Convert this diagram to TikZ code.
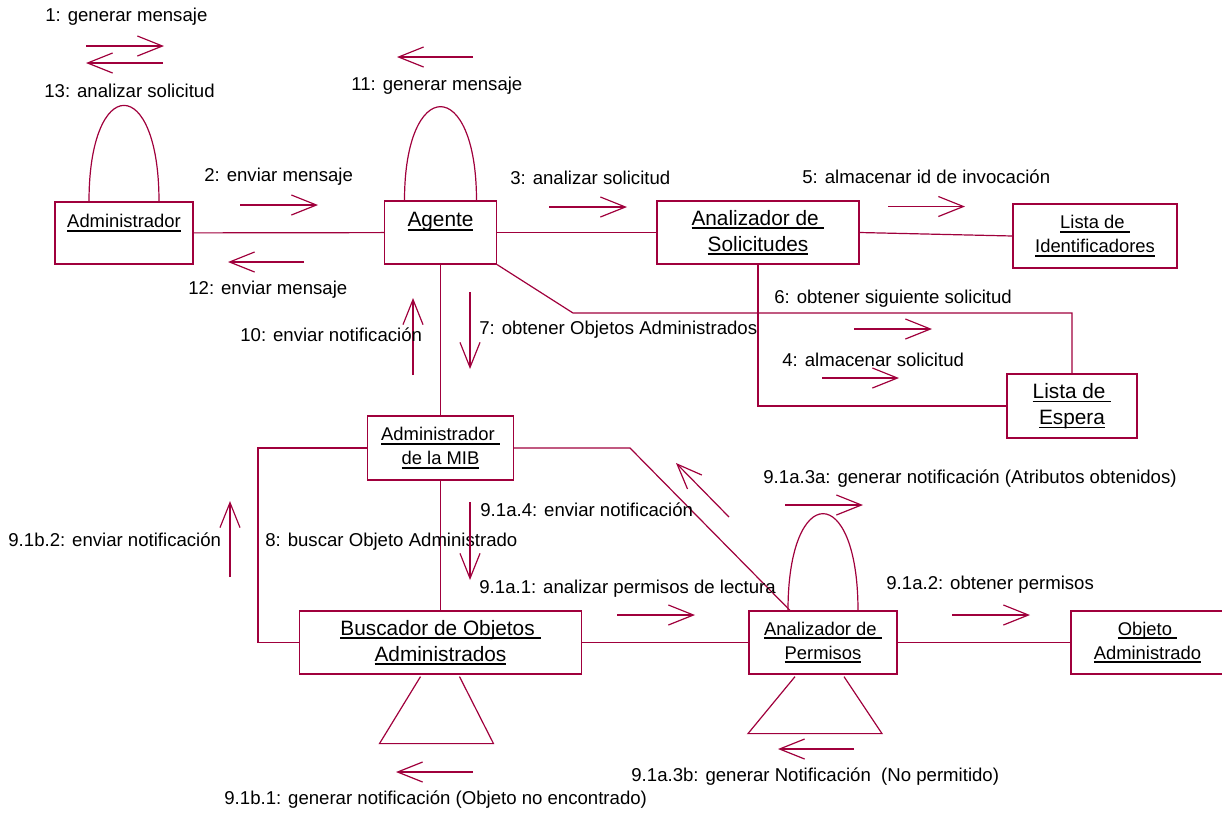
\documentclass[tikz,border=0pt]{standalone}
\usepackage{fontspec}
\setmainfont{Liberation Sans}
\usetikzlibrary{arrows.meta}
\definecolor{umlred}{RGB}{160,0,60}
\newcommand\obname[1]{\setbox0\hbox{#1}\rlap{\rule[-2pt]{\wd0}{0.9pt}}\box0}
\tikzset{
	obj/.style 2 args={draw=umlred, line width=0.6pt, minimum width=#1, minimum height=#2, inner sep=0pt, align=center, font=\fontsize{10.4}{13}\selectfont},
	smallobj/.style={font=\fontsize{9.2}{12}\selectfont},
	link/.style={umlred, line width=0.6pt},
	msg/.style={umlred, line width=0.6pt, -{Straight Barb[length=12.5pt,width=10pt]}},
	lbl/.style={anchor=west, inner sep=0pt, font=\fontsize{9.3}{11}\selectfont},
}

\begin{document}
\begin{tikzpicture}[x=0.5pt, y=-0.5pt]
			%%%%% START %%%%%
			\useasboundingbox (0,0) rectangle (1222,815);
			
			% objects
			\node[obj={69pt}{31pt}, smallobj] (admin) at (124,233) {\obname{Administrador}\\\mbox{}};
			\node[obj={56pt}{31.5pt}] (agente) at (440.5,232.5) {\obname{Agente}\\\mbox{}};
			\node[obj={101pt}{31.5pt}] (asol) at (758,232.5) {\obname{Analizador de }\\\obname{Solicitudes}};
			\node[obj={82pt}{32pt}, smallobj] (lid) at (1095,236) {\obname{Lista de }\\\obname{Identificadores}};
			\node[obj={65pt}{32pt}] (lesp) at (1072,406) {\obname{Lista de }\\\obname{Espera}};
			\node[obj={73pt}{32pt}, smallobj] (amib) at (440.5,448) {\obname{Administrador }\\\obname{de la MIB}};
			\node[obj={141pt}{31.5pt}] (busc) at (440.5,642.5) {\obname{Buscador de Objetos }\\\obname{Administrados}};
			\node[obj={74pt}{31.5pt}, smallobj] (aper) at (823,642.5) {\obname{Analizador de }\\\obname{Permisos}};
			\node[obj={76.5pt}{31.5pt}, smallobj] (oadm) at (1147.5,642.5) {\obname{Objeto }\\\obname{Administrado}};
			
			% links
			\coordinate (bendA) at (573,313);
			\coordinate (bendB) at (630,448);
			\draw[link] (admin) -- (agente);
			\draw[link] (agente) -- (asol);
			\draw[link] (asol.east) -- (lid.west);
			\draw[link] (agente.south east) -- (bendA) -| (lesp);
			\draw[link] (asol.south) |- (lesp);
			\draw[link] (agente) -- (amib);
			\draw[link] (amib) -- (busc);
			\draw[link] (amib.west) -- ++(-109,0) |- (busc.west);
			\draw[link] (amib.east) -- (bendB) -- ([xshift=-16.5pt]aper.north);
			\draw[link] (busc) -- (aper);
			\draw[link] (aper) -- (oadm);
			
			% self links
			\draw[link] ([xshift=-17.5pt]admin.north) .. controls +(0,-128) and +(0,-128) .. ([xshift=17.5pt]admin.north);
			\draw[link] ([xshift=-18pt]agente.north) .. controls +(0,-125) and +(0,-125) .. ([xshift=18pt]agente.north);
			\draw[link] ([xshift=-17.5pt]aper.north) .. controls +(0,-129) and +(0,-129) .. ([xshift=17.5pt]aper.north);
			
			\draw[link] (busc.south) ++(-20,2) -- ++(-41,67) -- ++(114,0) -- ++(-34,-67);
			\draw[link] (aper.south) ++(-28,2) -- ++(-47,57) -- ++(134,0) -- ++(-38,-57);
			
			% messages
			\node[lbl] (m1) at (45,17) {1: generar mensaje};
			\draw[msg] (86,46) -- (164,46);
			\draw[msg] (163,63) -- (86,63);
			\node[lbl] (m13) at (44,91) {13: analizar solicitud};
			
			\draw[msg] (473,57) -- (397,57);
			\node[lbl] (m11) at (351,86) {11: generar mensaje};
			
			\node[lbl] (m2) at (204,177) {2: enviar mensaje};
			\draw[msg] (240,205) -- (318,205);
			\draw[msg] (304,262) -- (228,262);
			\node[lbl] (m12) at (188,290) {12: enviar mensaje};
			
			\node[lbl] (m3) at (510,178) {3: analizar solicitud};
			\draw[msg] (549,207) -- (627,207);
			
			\node[lbl] (m5) at (802,177) {5: almacenar id de invocación};
			\draw[msg] (888,206.5) -- (965,206.5);
			
			\node[lbl] (m6) at (774,299) {6: obtener siguiente solicitud};
			\draw[msg] (854,329) -- (932,329);
			\node[lbl] (m4) at (782,360) {4: almacenar solicitud};
			\draw[msg] (822,378) -- (899,378);
			
			\draw[msg] (470,292) -- (470,369);
			\node[lbl] (m7) at (479,330) {7: obtener Objetos Administrados};
			\draw[msg] (413,375) -- (413,298);
			\node[lbl] (m10) at (240,335) {10: enviar notificación};
			
			\node[lbl] (m9b2) at (8,540) {9.1b.2: enviar notificación};
			\draw[msg] (230,577) -- (230,501);
			\node[lbl] (m8) at (265,542) {8: buscar Objeto Administrado};
			
			\node[lbl] (m9a4) at (480,510) {9.1a.4: enviar notificación};
			\draw[msg] (470,502) -- (470,580);
			\draw[msg] (729,517) -- (676,463);
			
			\node[lbl] (m9a1) at (479,589) {9.1a.1: analizar permisos de lectura};
			\draw[msg] (617,615) -- (695,615);
			
			\node[lbl] (m9a3a) at (763,479) {9.1a.3a: generar notificación (Atributos obtenidos)};
			\draw[msg] (785,505) -- (863,505);
			
			\node[lbl] (m9a2) at (886,585) {9.1a.2: obtener permisos};
			\draw[msg] (952,615) -- (1030,615);
			
			\draw[msg] (854,749) -- (778,749);
			\node[lbl] (m9a3b) at (631,777) {9.1a.3b: generar Notificación\ \ (No permitido)};
			
			\draw[msg] (473,772) -- (396,772);
			\node[lbl] (m9b1) at (224,800) {9.1b.1: generar notificación (Objeto no encontrado)};
			%%%%% END %%%%%
\end{tikzpicture}
\end{document}
